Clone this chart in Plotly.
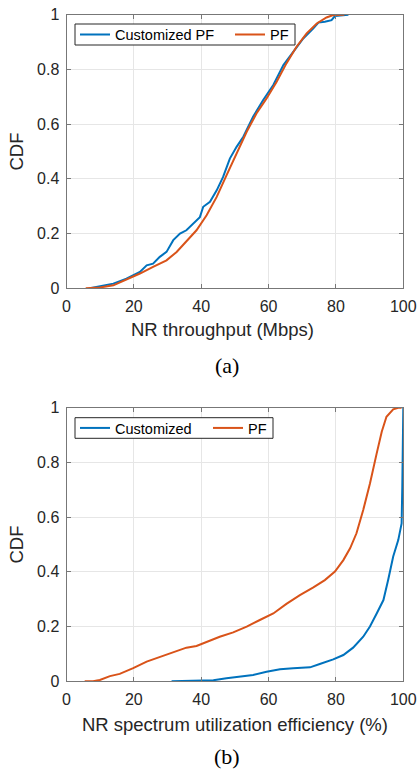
import plotly.graph_objects as go

# ---- data ----
tp_custom_x = [6.9, 9.9, 13.9, 17.8, 19.8, 21.8, 23.8, 25.7, 27.7, 29.7, 31.7, 33.7, 35.6, 37.6, 39.6,
               40.6, 42.6, 44.6, 46.5, 48.5, 50.5, 52.5, 55.4, 58.4, 61.4, 64.4, 67.3, 70.3, 73.3,
               74.8, 76.7, 78.7, 79.7, 83.7]
tp_custom_y = [0.0, 0.007, 0.017, 0.035, 0.048, 0.06, 0.084, 0.09, 0.115, 0.133, 0.176, 0.2, 0.212, 0.237, 0.26,
               0.298, 0.316, 0.358, 0.407, 0.474, 0.517, 0.554, 0.627, 0.688, 0.743, 0.816, 0.865, 0.913, 0.95,
               0.971, 0.974, 0.98, 0.995, 1.0]
tp_pf_x = [5.7, 9.9, 13.9, 17.8, 21.8, 25.7, 29.7, 32.7, 35.6, 38.6, 41.6, 44.6, 47.5, 50.5, 53.5,
           56.4, 59.4, 62.4, 65.3, 68.3, 71.3, 74.3, 77.2, 79.2, 81.2, 82.5]
tp_pf_y = [0.0, 0.003, 0.011, 0.032, 0.054, 0.078, 0.102, 0.133, 0.17, 0.212, 0.267, 0.334, 0.413, 0.493, 0.572,
           0.639, 0.694, 0.755, 0.822, 0.883, 0.932, 0.968, 0.99, 0.999, 1.0, 1.0]

se_custom_x = [31.2, 35.6, 39.6, 43.6, 47.5, 51.5, 55.4, 59.4, 63.4, 67.3, 72.3, 75.2, 79.2, 82.2, 85.1,
               88.1, 90.1, 92.1, 94.1, 95.5, 97.0, 98.5, 99.5, 99.7, 99.9, 100.0]
se_custom_y = [0.0, 0.001, 0.002, 0.004, 0.011, 0.017, 0.023, 0.035, 0.044, 0.048, 0.051, 0.063, 0.08, 0.096, 0.123,
               0.163, 0.2, 0.248, 0.297, 0.37, 0.456, 0.516, 0.577, 0.711, 0.9, 1.0]
se_pf_x = [5.4, 7.9, 9.9, 12.9, 15.8, 19.8, 23.8, 27.7, 31.7, 35.6, 38.6, 41.6, 45.5, 49.5, 53.5, 57.4,
           61.4, 65.3, 69.3, 73.3, 76.7, 79.7, 82.2, 84.2, 86.1, 88.1, 90.1, 92.1, 93.6, 95.0, 97.0, 98.5, 99.5]
se_pf_y = [0.0, 0.0, 0.005, 0.019, 0.027, 0.048, 0.072, 0.088, 0.105, 0.123, 0.129, 0.145, 0.163, 0.179, 0.2, 0.224,
           0.248, 0.283, 0.315, 0.343, 0.37, 0.401, 0.443, 0.486, 0.541, 0.626, 0.723, 0.833, 0.912, 0.967, 0.994, 1.0, 1.0]

x_ticks = [0, 20, 40, 60, 80, 100]
y_ticks = [0, 0.2, 0.4, 0.6, 0.8, 1]
y_tick_text = ["0", "0.2", "0.4", "0.6", "0.8", "1"]

BLUE = "#0072BD"
ORANGE = "#D95319"
W, H = 417, 771

def px_x(p):
    return p / W

def px_y(p):
    return 1 - p / H

fig = go.Figure()
fig.add_trace(go.Scatter(x=tp_custom_x, y=tp_custom_y, mode="lines", name="Customized PF",
                         line=dict(color=BLUE, width=2), xaxis="x", yaxis="y", legend="legend"))
fig.add_trace(go.Scatter(x=tp_pf_x, y=tp_pf_y, mode="lines", name="PF",
                         line=dict(color=ORANGE, width=2), xaxis="x", yaxis="y", legend="legend"))
fig.add_trace(go.Scatter(x=se_custom_x, y=se_custom_y, mode="lines", name="Customized",
                         line=dict(color=BLUE, width=2), xaxis="x2", yaxis="y2", legend="legend2"))
fig.add_trace(go.Scatter(x=se_pf_x, y=se_pf_y, mode="lines", name="PF",
                         line=dict(color=ORANGE, width=2), xaxis="x2", yaxis="y2", legend="legend2"))

xdom = [px_x(66.5), px_x(403.3)]
font = "Liberation Sans, Arial, sans-serif"
TITLE_SIZE = 18.5
axis_common = dict(showline=True, linecolor="#777777", linewidth=1, mirror="ticks",
                   ticks="inside", ticklen=4, tickcolor="#777777", automargin=False,
                   showgrid=True, gridcolor="#e6e6e6", gridwidth=1, zeroline=False,
                   tickfont=dict(family=font, size=16, color="#262626"))
xax = dict(ticklabelstandoff=3, **axis_common)
yax = dict(ticklabelstandoff=3, **axis_common)

fig.update_layout(
    width=W, height=H, margin=dict(l=0, r=0, t=0, b=0),
    paper_bgcolor="white", plot_bgcolor="white",
    font=dict(family=font, color="#262626"),
    xaxis=dict(domain=xdom, anchor="y", range=[0, 100], tickvals=x_ticks, **xax),
    yaxis=dict(domain=[px_y(288.3), px_y(14.7)], anchor="x", range=[0, 1], tickvals=y_ticks,
               ticktext=y_tick_text, title=dict(text="CDF", font=dict(size=TITLE_SIZE), standoff=8), **yax),
    xaxis2=dict(domain=xdom, anchor="y2", range=[0, 100], tickvals=x_ticks,
                title=dict(text="NR spectrum utilization efficiency (%)", font=dict(size=TITLE_SIZE), standoff=11),
                **xax),
    yaxis2=dict(domain=[px_y(681.3), px_y(407.7)], anchor="x2", range=[0, 1], tickvals=y_ticks,
                ticktext=y_tick_text, title=dict(text="CDF", font=dict(size=TITLE_SIZE), standoff=8), **yax),
    legend=dict(x=px_x(75), xanchor="left", y=px_y(34.5), yanchor="middle", orientation="h",
                bgcolor="rgba(0,0,0,0)", borderwidth=0, entrywidth=110,
                font=dict(family=font, size=14.5, color="#000000")),
    legend2=dict(x=px_x(75), xanchor="left", y=px_y(428), yanchor="middle", orientation="h",
                 bgcolor="rgba(0,0,0,0)", borderwidth=0, entrywidth=88,
                 font=dict(family=font, size=14.5, color="#000000")),
    shapes=[
        dict(type="rect", xref="paper", yref="paper", x0=px_x(75), x1=px_x(295), y0=px_y(45), y1=px_y(24),
             line=dict(color="#262626", width=1), fillcolor="white", layer="above"),
        dict(type="rect", xref="paper", yref="paper", x0=px_x(75), x1=px_x(273), y0=px_y(438.3), y1=px_y(417.7),
             line=dict(color="#262626", width=1), fillcolor="white", layer="above"),
    ],
    annotations=[
        dict(text="NR throughput (Mbps)", xref="paper", yref="paper", x=px_x(222.5), y=px_y(329),
             showarrow=False, xanchor="center", yanchor="middle",
             font=dict(family=font, size=TITLE_SIZE, color="#262626")),
        dict(text="(a)", xref="paper", yref="paper", x=px_x(227), y=px_y(365), showarrow=False,
             xanchor="center", yanchor="middle",
             font=dict(family="Liberation Serif, Times New Roman, serif", size=22, color="#000000")),
        dict(text="(b)", xref="paper", yref="paper", x=px_x(227), y=px_y(756), showarrow=False,
             xanchor="center", yanchor="middle",
             font=dict(family="Liberation Serif, Times New Roman, serif", size=22, color="#000000")),
    ],
)

fig.write_html("out.html", config={"displayModeBar": False},
               post_script="document.body.style.margin='0';document.body.style.overflow='hidden';")
